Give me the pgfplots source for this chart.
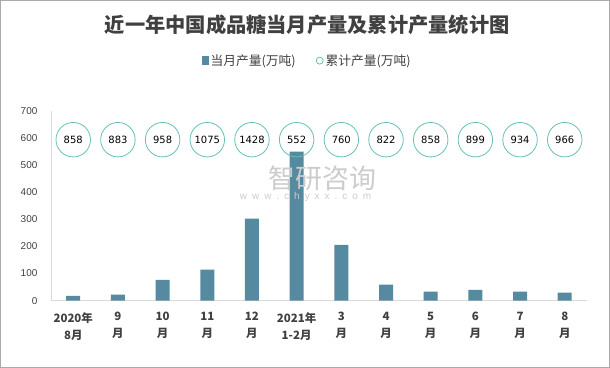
\documentclass[border=0pt]{standalone}
\usepackage{fontspec}
\usepackage{pgfplots}
\usepackage{pgfplotstable}
\pgfplotsset{compat=1.18}
\setmainfont{Liberation Sans}
\newfontfamily\cjk{Noto Sans CJK SC}
\newfontfamily\dv{DejaVu Sans}
\definecolor{barc}{RGB}{86,138,160}
\definecolor{circ}{RGB}{100,192,182}
\definecolor{axisgray}{RGB}{217,217,217}
\definecolor{textgray}{RGB}{64,64,64}
\definecolor{framegray}{RGB}{170,170,170}
\pgfplotstableread{
x m cy c
0 18 593 858
1 22 593 883
2 77 593 958
3 114 593 1075
4 302 593 1428
5 549 593 552
6 206 593 760
7 59 593 822
8 33 593 858
9 40 593 899
10 33 593 934
11 30 593 966
}\data
\begin{document}
\begin{tikzpicture}
\begin{axis}[
  scale only axis, width=536bp, height=190bp,
  xmin=-0.5, xmax=11.5, ymin=0, ymax=700,
  axis x line*=bottom, axis y line*=left,
  axis line style={draw=axisgray, line width=0.8pt},
  ytick={0,100,...,700},
  ytick style={draw=none},
  yticklabel style={font=\fontsize{10}{11}\selectfont, text=textgray, xshift=-10bp},
  /pgf/number format/assume math mode=true,
  xtick={0,...,11},
  xticklabels={{2020年\\8月},{9\\月},{10\\月},{11\\月},{12\\月},{2021年\\1-2月},{3\\月},{4\\月},{5\\月},{6\\月},{7\\月},{8\\月}},
  xticklabel style={align=center, font=\cjk\bfseries\fontsize{11.5}{17}\selectfont, text=textgray, yshift=-8bp},
  x tick style={draw=none},
  extra x ticks={-0.5,0.5,...,11.5},
  extra x tick labels={},
  extra x tick style={tick style={draw=axisgray, line width=0.8pt}, major tick length=5bp, tick align=outside},
  clip=false,
  legend style={at={(rel axis cs:0.478,1.263)}, anchor=center, draw=none, fill=none,
    legend columns=2, font=\cjk\fontsize{12.8}{14}\selectfont, text=textgray,
    /tikz/every even column/.append style={column sep=18bp}},
]
\addplot[ybar, area legend, bar width=14bp, bar shift=0pt, fill=barc, draw=none,
  legend image code/.code={\fill[barc] (0.1em,-4pt) rectangle (0.1em+7pt,4.5pt);}] table[x=x, y=m] {\data};
\addlegendentry{当月产量(万吨)}
\addplot[only marks, mark=o, mark size=17.3pt, mark options={draw=circ, line width=0.8pt},
  nodes near coords, point meta=explicit symbolic,
  every node near coord/.append style={anchor=center, font=\dv\fontsize{10}{11}\selectfont, text=black},
  legend image code/.code={\draw[circ, line width=0.8pt] (0.3em,0) circle (3.5pt);}]
  table[x=x, y=cy, meta=c] {\data};
\addlegendentry{累计产量(万吨)}
\node[font=\cjk\bfseries\fontsize{20.3}{24}\selectfont, text=textgray] at (rel axis cs:0.478,1.453) {近一年中国成品糖当月产量及累计产量统计图};
\node[font=\cjk\fontsize{27}{28}\selectfont, text=black!20] at (rel axis cs:0.506,0.642) {智研咨询};
\node[font=\fontsize{10}{11}\selectfont, text=black!20] at (rel axis cs:0.475,0.547) {w\enspace w\enspace w\enspace .\enspace c\enspace h\enspace y\enspace x\enspace x\enspace .\enspace c\enspace o\enspace m};
\draw[framegray, line width=0.8pt] (rel axis cs:-0.0942,-0.350) rectangle (rel axis cs:1.0420,1.580);
\end{axis}
\end{tikzpicture}
\end{document}
